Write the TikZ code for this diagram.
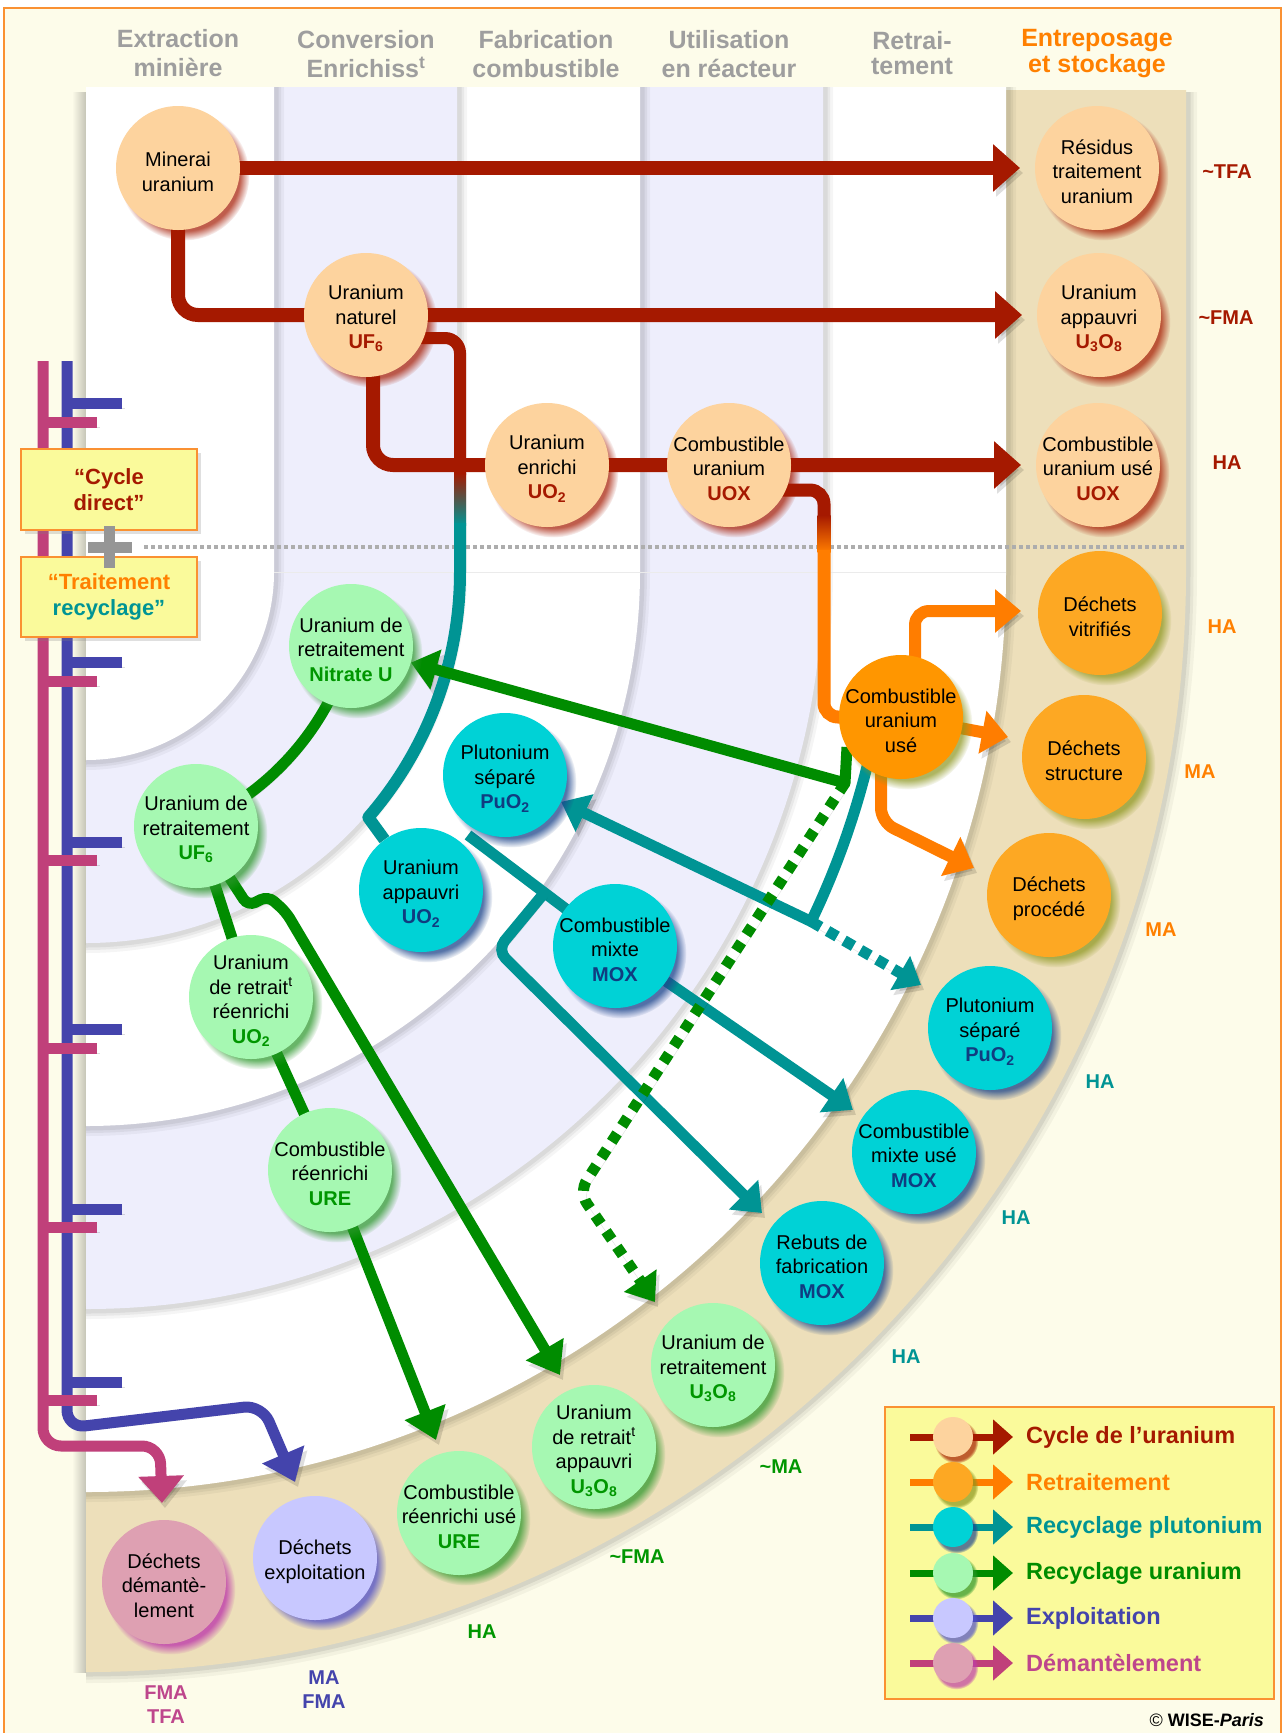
\documentclass[tikz,border=0pt]{standalone}
\usepackage{fontspec}
\setmainfont{Liberation Sans}
\usetikzlibrary{arrows.meta,calc,shadows,fadings}
\definecolor{cream}{RGB}{253,252,234}
\definecolor{bord}{RGB}{250,145,50}
\definecolor{lav}{RGB}{238,238,252}
\definecolor{tanc}{RGB}{237,223,186}
\definecolor{ured}{RGB}{165,25,0}
\definecolor{uorange}{RGB}{255,125,0}
\definecolor{uteal}{RGB}{0,148,148}
\definecolor{ugreen}{RGB}{0,140,0}
\definecolor{ublue}{RGB}{68,68,172}
\definecolor{umag}{RGB}{192,64,122}
\definecolor{fpeach}{RGB}{253,211,158}
\definecolor{forange}{RGB}{253,168,35}
\definecolor{forange2}{RGB}{255,150,0}
\definecolor{fcyan}{RGB}{0,210,214}
\definecolor{fgreen}{RGB}{166,248,178}
\definecolor{flav}{RGB}{200,200,255}
\definecolor{fpink}{RGB}{222,160,178}
\definecolor{hdrgray}{RGB}{158,158,158}
\definecolor{hdrorange}{RGB}{255,128,0}
\definecolor{subblue}{RGB}{16,60,128}
\definecolor{sgreen}{RGB}{0,150,0}
\definecolor{boxy}{RGB}{250,250,155}
\definecolor{shol}{RGB}{140,150,30}
\definecolor{shcy}{RGB}{30,70,140}
\definecolor{shgr}{RGB}{40,150,40}
\definecolor{shlv}{RGB}{80,80,200}
\definecolor{shpk}{RGB}{190,60,170}
\definecolor{plusgray}{RGB}{150,150,150}
\definecolor{legmag}{RGB}{190,70,140}
\newcommand\slab[2]{{\bfseries\color{#1}#2}}
\newcommand\tp{\rule{0pt}{22pt}}
\pgfdeclarelayer{bg}
\pgfdeclarelayer{conn}
\pgfsetlayers{bg,conn,main}
\tikzset{
 ball/.style={circle,minimum size=124pt,inner sep=-16pt,align=center,font=\fontsize{20}{24.5}\selectfont,text=black},
 peach/.style={ball,fill=fpeach,circular drop shadow={fill=ured,opacity=0.7,shadow scale=1.05,shadow xshift=6pt,shadow yshift=-7pt}},
 orangeb/.style={ball,fill=forange,circular drop shadow={fill=shol,opacity=0.7,shadow scale=1.05,shadow xshift=6pt,shadow yshift=-7pt}},
 cyanb/.style={ball,fill=fcyan,circular drop shadow={fill=shcy,opacity=0.75,shadow scale=1.05,shadow xshift=6pt,shadow yshift=-7pt}},
 greenb/.style={ball,fill=fgreen,circular drop shadow={fill=shgr,opacity=0.7,shadow scale=1.05,shadow xshift=6pt,shadow yshift=-7pt}},
 lavb/.style={ball,fill=flav,circular drop shadow={fill=shlv,opacity=0.75,shadow scale=1.05,shadow xshift=6pt,shadow yshift=-7pt}},
 pinkb/.style={ball,fill=fpink,circular drop shadow={fill=shpk,opacity=0.8,shadow scale=1.05,shadow xshift=6pt,shadow yshift=-7pt}},
 lsh/.style={preaction={draw=black,opacity=0.13,transform canvas={shift={(3pt,-5pt)}}}},
 redline/.style={lsh,draw=ured,line width=14pt},
 orangeline/.style={lsh,draw=uorange,line width=12pt},
 tealline/.style={lsh,draw=uteal,line width=11pt},
 greenline/.style={lsh,draw=ugreen,line width=11pt},
 blueline/.style={lsh,draw=ublue,line width=11pt},
 magline/.style={lsh,draw=umag,line width=11pt},
 hdr/.style={align=center,font=\fontsize{25}{29}\selectfont\bfseries,text=hdrgray,inner sep=0},
 lvl/.style={align=center,font=\fontsize{20}{24}\selectfont\bfseries,inner sep=0},
 legtxt/.style={anchor=west,font=\fontsize{23.5}{26}\selectfont\bfseries,inner sep=0},
 legball/.style={circle,minimum size=40pt,inner sep=0},
 cbox/.style={draw=bord,line width=1.5pt,fill=boxy,minimum width=176pt,align=center,font=\fontsize{22}{26}\selectfont\bfseries,drop shadow={opacity=0.25,shadow xshift=4pt,shadow yshift=-4pt}},
}
\newcommand\ringshadow[2]{%
 \foreach \w/\o in {16/0.04,10/0.05,5/0.06}{%
   \draw[black,opacity=\o,line width=\w pt] (#1+2,87) -- (#1+2,572) arc[start angle=0,end angle=90,radius=#2+2];}}
\begin{document}
\begin{tikzpicture}[x=1pt,y=-1pt]
\useasboundingbox (0,0) rectangle (1284,1733);
\begin{pgfonlayer}{bg}
\fill[white] (0,0) rectangle (1284,1733);
\fill[cream] (4,8) rectangle (1281,1740);
\draw[bord,line width=2pt] (4,8) rectangle (1281,1740);
\shade[left color=cream,right color=cream!78!black] (72,92) rectangle (86,1672);
% storage ring
\foreach \w/\o in {18/0.04,11/0.05,5/0.07}{%
  \draw[black,opacity=\o,line width=\w pt] (1188,92) -- (1188,572) arc[start angle=0,end angle=90,radius=1102];}
\fill[tanc] (86,90) -- (1186,90) -- (1186,572) arc[start angle=0,end angle=90,radius=1100] -- cycle;
\ringshadow{1006}{920}
\fill[white] (86,87) -- (1006,87) -- (1006,572) arc[start angle=0,end angle=90,radius=920] -- cycle;
\ringshadow{823}{737}
\fill[lav] (86,87) -- (823,87) -- (823,572) arc[start angle=0,end angle=90,radius=737] -- cycle;
\ringshadow{640}{554}
\fill[white] (86,87) -- (640,87) -- (640,572) arc[start angle=0,end angle=90,radius=554] -- cycle;
\ringshadow{457}{371}
\fill[lav] (86,87) -- (457,87) -- (457,572) arc[start angle=0,end angle=90,radius=371] -- cycle;
\ringshadow{274}{188}
\fill[white] (86,87) -- (274,87) -- (274,572) arc[start angle=0,end angle=90,radius=188] -- cycle;
\draw[black!8,line width=1pt] (274,572) -- (1006,572);
\draw[black!32,line width=4pt,dash pattern=on 4pt off 3pt] (144,547) -- (1186,547);
\end{pgfonlayer}

% headers
\node[hdr] (h1) at (178,53) {Extraction\\minière};
\node[hdr] (h2) at (366,54) {Conversion\\Enrichiss\textsuperscript{t}};
\node[hdr] (h3) at (546,54) {Fabrication\\combustible};
\node[hdr] (h4) at (729,54) {Utilisation\\en réacteur};
\node[hdr,font=\fontsize{25}{25}\selectfont\bfseries] (h5) at (912,53) {Retrai-\\tement};
\node[hdr,font=\fontsize{25}{26}\selectfont\bfseries,text=hdrorange] (h6) at (1097,54) {Entreposage\\et stockage};

% circles
\node[peach] (minerai) at (178,168) {\tp Minerai\\uranium};
\node[peach] (naturel) at (366,315) {\tp Uranium\\naturel\\\slab{ured}{UF\textsubscript{6}}};
\node[peach] (enrichi) at (547,465) {\tp Uranium\\enrichi\\\slab{ured}{UO\textsubscript{2}}};
\node[peach] (uox) at (729,465) {\tp Combustible\\uranium\\\slab{ured}{UOX}};
\node[peach] (residus) at (1097,168) {\tp Résidus\\traitement\\uranium};
\node[peach] (appU) at (1099,315) {\tp Uranium\\appauvri\\\slab{ured}{U\textsubscript{3}O\textsubscript{8}}};
\node[peach] (useUOX) at (1098,465) {\tp Combustible\\uranium usé\\\slab{ured}{UOX}};
\node[orangeb] (vitrif) at (1100,613) {\tp Déchets\\vitrifiés};
\node[orangeb,fill=forange2] (cuse) at (901,717) {\tp Combustible\\uranium\\usé};
\node[orangeb] (struct) at (1084,757) {\tp Déchets\\structure};
\node[orangeb] (proced) at (1049,895) {\tp Déchets\\procédé};
\node[cyanb] (pusep1) at (505,775) {\tp Plutonium\\séparé\\\slab{subblue}{PuO\textsubscript{2}}};
\node[greenb] (nitrate) at (351,646) {\tp Uranium de\\retraitement\\\slab{sgreen}{Nitrate U}};
\node[greenb] (uf6) at (196,826) {\tp Uranium de\\retraitement\\\slab{sgreen}{UF\textsubscript{6}}};
\node[cyanb] (uappUO2) at (421,890) {\tp Uranium\\appauvri\\\slab{subblue}{UO\textsubscript{2}}};
\node[cyanb] (mox) at (615,946) {\tp Combustible\\mixte\\\slab{subblue}{MOX}};
\node[greenb] (ureenr) at (251,997) {\tp Uranium\\de retrait\textsuperscript{t}\\réenrichi\\\slab{sgreen}{UO\textsubscript{2}}};
\node[greenb] (ure) at (330,1170) {\tp Combustible\\réenrichi\\\slab{sgreen}{URE}};
\node[cyanb] (pusep2) at (990,1028) {\tp Plutonium\\séparé\\\slab{subblue}{PuO\textsubscript{2}}};
\node[cyanb] (moxuse) at (914,1152) {\tp Combustible\\mixte usé\\\slab{subblue}{MOX}};
\node[cyanb] (rebuts) at (822,1263) {\tp Rebuts de\\fabrication\\\slab{subblue}{MOX}};
\node[greenb] (uretU) at (713,1365) {\tp Uranium de\\retraitement\\\slab{sgreen}{U\textsubscript{3}O\textsubscript{8}}};
\node[greenb] (uappU3) at (594,1447) {\tp Uranium\\de retrait\textsuperscript{t}\\appauvri\\\slab{sgreen}{U\textsubscript{3}O\textsubscript{8}}};
\node[greenb] (ureuse) at (459,1513) {\tp Combustible\\réenrichi usé\\\slab{sgreen}{URE}};
\node[lavb] (dexp) at (315,1558) {\tp Déchets\\exploitation};
\node[pinkb] (ddem) at (164,1582) {\tp Déchets\\démantè-\\lement};

% connectors
\begin{pgfonlayer}{conn}
\draw[redline,-{Triangle[length=27pt,width=46pt]}] (minerai.center) -- ($(residus.center)+(-77,0)$);
\draw[redline,rounded corners=20pt,-{Triangle[length=27pt,width=46pt]}] (minerai.center) |- ($(appU.center)+(-77,0)$);
\draw[redline,rounded corners=20pt,-{Triangle[length=27pt,width=46pt]}] ($(naturel.center)+(7,0)$) |- ($(useUOX.center)+(-77,0)$);
\draw[lsh,ured,line width=12pt,rounded corners=15pt] ($(naturel.center)+(0,23)$) -| ($(naturel.center)+(94,160)$);
\shade[top color=ured,bottom color=uteal] (454,473) rectangle (466,525);
\draw[lsh,uteal,line width=12pt,line join=round] (460,523) -- (460,572) arc[start angle=0,end angle=41,radius=374] coordinate (tbend) -- (uappUO2);
\draw[lsh,ured,line width=13pt,rounded corners=14pt] ($(uox.center)+(40,25)$) -| ($(uox.center)+(95,52)$);
\shade[top color=ured,bottom color=uorange] (817.5,515) rectangle (830.5,552);
\draw[lsh,uorange,line width=13pt,rounded corners=14pt] (824,550) |- (cuse.center);
\draw[orangeline,rounded corners=14pt,-{Triangle[length=26pt,width=42pt]}] ($(cuse.center)+(14,0)$) |- ($(vitrif.center)+(-79,-2)$);
\draw[orangeline,-{Triangle[length=26pt,width=42pt]}] (cuse.center) -- ($(struct.center)+(-76,-20)$);
\draw[orangeline,rounded corners=14pt,-{Triangle[length=26pt,width=42pt]}] ($(cuse.center)+(-20,0)$) -- ($(cuse.center)+(-20,105)$) -- ($(proced.center)+(-75,-27)$);
% plutonium
\draw[tealline,line join=round,-{Triangle[length=26pt,width=40pt]}] ($(cuse.center)+(-25,9)$) arc[start angle=11,end angle=25.7,radius=805] coordinate (tcorner) -- (pusep1);
\draw[tealline,dash pattern=on 11pt off 8pt,-{Triangle[length=24pt,width=38pt]}] (tcorner) -- ($(pusep2.center)+(-69,-43)$);
\draw[tealline,shorten >=12pt,-{Triangle[length=26pt,width=40pt]}] (mox) -- (moxuse);
\coordinate (pujoin) at ($(pusep1.center)+(-37,60)$);
\draw[tealline] (pujoin) -- (mox.center);
\draw[tealline,rounded corners=12pt,-{Triangle[length=26pt,width=40pt]}] ($(pujoin)!0.52!(mox.center)$) -- (497,950) -- ($(rebuts.center)+(-60,-50)$);
% uranium recycling
\coordinate (gcorner) at ($(cuse.center)+(-56,66)$);
\draw[greenline,line join=round,-{Triangle[length=26pt,width=40pt]}] ($(cuse.center)+(-54,30)$) -- (gcorner) -- (nitrate);
\draw[greenline,dash pattern=on 10pt off 9pt,rounded corners=14pt,-{Triangle[length=26pt,width=38pt]}] (gcorner) -- (579,1192) -- ($(uretU.center)+(-58,-63)$);
\draw[greenline] (nitrate.center) arc[start angle=15.6,end angle=66.5,radius=276];
\draw[greenline,line join=round,-{Triangle[length=30pt,width=42pt]}] (uf6.center) -- (ureenr.center) -- (ure.center) -- ($(ureuse.center)+(-23,-73)$);
\draw[greenline,rounded corners=8pt,-{Triangle[length=30pt,width=42pt]}] (uf6.center) -- ($(uf6.center)+(52,80)$) -- ($(uf6.center)+(72,70)$) -- ($(uf6.center)+(90,86)$) -- ($(uappU3.center)+(-34,-72)$);
% exploitation / demantelement
\coordinate (btop) at (67,361);
\coordinate (mtop) at (43,361);
\draw[blueline,rounded corners=18pt,-{Triangle[length=30pt,width=44pt]}] (btop) -- (67,1428) -- (262,1405) -- ($(dexp.center)+(-20,-76)$);
\draw[magline,rounded corners=18pt,-{Triangle[length=27pt,width=44pt]}] (mtop) -- (43,1446) -- (160,1446) -- ($(ddem.center)+(-2,-79)$);
\foreach \y in {403,662,842,1029,1209,1382} {\draw[blueline] (67,\y) -- (122,\y);}
\foreach \y in {422,681,860,1048,1227,1400} {\draw[magline] (43,\y) -- (97,\y);}
\end{pgfonlayer}

% boxes
\node[cbox,minimum height=81pt] (cdirect) at (109,489.5) {\color{ured}“Cycle\\\color{ured}direct”};
\node[cbox,minimum height=80pt] (ctrait) at (109,597) {\color{hdrorange}“Traitement\\\color{uteal}recyclage”};
\fill[plusgray] (104,526) rectangle (115,568);
\fill[plusgray] (88,542) rectangle (132,553);

% level labels
\node[lvl,text=ured] (l1) at (1227,172) {\textasciitilde TFA};
\node[lvl,text=ured] (l2) at (1226,318) {\textasciitilde FMA};
\node[lvl,text=ured] (l3) at (1227,463) {HA};
\node[lvl,text=hdrorange] (l4) at (1222,627) {HA};
\node[lvl,text=hdrorange] (l5) at (1200,772) {MA};
\node[lvl,text=hdrorange] (l6) at (1161,930) {MA};
\node[lvl,text=uteal] (l7) at (1100,1082) {HA};
\node[lvl,text=uteal] (l8) at (1016,1218) {HA};
\node[lvl,text=uteal] (l9) at (906,1357) {HA};
\node[lvl,text=sgreen] (l10) at (781,1467) {\textasciitilde MA};
\node[lvl,text=sgreen] (l11) at (637,1557) {\textasciitilde FMA};
\node[lvl,text=sgreen] (l12) at (482,1632) {HA};
\node[lvl,text=ublue] (l13) at (324,1690) {MA\\FMA};
\node[lvl,text=legmag] (l14) at (166,1705) {FMA\\TFA};

% legend
\node[draw=bord,fill=boxy,line width=2pt,minimum width=389pt,minimum height=292pt,inner sep=0,anchor=north west] (legend) at (884,1406) {};
\coordinate (la1) at (910,1437); \coordinate (lb1) at (1013,1437);
\coordinate (la2) at (910,1482); \coordinate (lb2) at (1013,1482);
\coordinate (la3) at (910,1527); \coordinate (lb3) at (1013,1527);
\coordinate (la4) at (910,1573); \coordinate (lb4) at (1013,1573);
\coordinate (la5) at (910,1618); \coordinate (lb5) at (1013,1618);
\coordinate (la6) at (910,1663); \coordinate (lb6) at (1013,1663);
\draw[line width=7pt,ured,-{Triangle[length=20pt,width=34pt]}] (la1) -- (lb1);
\draw[line width=7pt,uorange,-{Triangle[length=20pt,width=34pt]}] (la2) -- (lb2);
\draw[line width=7pt,uteal,-{Triangle[length=20pt,width=34pt]}] (la3) -- (lb3);
\draw[line width=7pt,ugreen,-{Triangle[length=20pt,width=34pt]}] (la4) -- (lb4);
\draw[line width=7pt,ublue,-{Triangle[length=20pt,width=34pt]}] (la5) -- (lb5);
\draw[line width=7pt,umag,-{Triangle[length=20pt,width=34pt]}] (la6) -- (lb6);
\node[legball,fill=fpeach,circular drop shadow={fill=ured,opacity=.7,shadow xshift=3pt,shadow yshift=-4pt}] (lg1) at (953,1437) {};
\node[legball,fill=forange,circular drop shadow={fill=shol,opacity=.7,shadow xshift=3pt,shadow yshift=-4pt}] (lg2) at (953,1482) {};
\node[legball,fill=fcyan,circular drop shadow={fill=shcy,opacity=.7,shadow xshift=3pt,shadow yshift=-4pt}] (lg3) at (953,1527) {};
\node[legball,fill=fgreen,circular drop shadow={fill=shgr,opacity=.7,shadow xshift=3pt,shadow yshift=-4pt}] (lg4) at (953,1573) {};
\node[legball,fill=flav,circular drop shadow={fill=shlv,opacity=.7,shadow xshift=3pt,shadow yshift=-4pt}] (lg5) at (953,1618) {};
\node[legball,fill=fpink,circular drop shadow={fill=shpk,opacity=.7,shadow xshift=3pt,shadow yshift=-4pt}] (lg6) at (953,1663) {};
\node[legtxt,text=ured] (lt1) at (1026,1437) {Cycle de l’uranium};
\node[legtxt,text=hdrorange] (lt2) at (1026,1482) {Retraitement};
\node[legtxt,text=uteal] (lt3) at (1026,1527) {Recyclage plutonium};
\node[legtxt,text=ugreen] (lt4) at (1026,1573) {Recyclage uranium};
\node[legtxt,text=ublue] (lt5) at (1026,1618) {Exploitation};
\node[legtxt,text=legmag] (lt6) at (1026,1663) {Démantèlement};
\node[anchor=east,inner sep=0,font=\fontsize{18}{20}\selectfont] (copy) at (1264,1720) {© \textbf{WISE-\textit{Paris}}};
\end{tikzpicture}
\end{document}
